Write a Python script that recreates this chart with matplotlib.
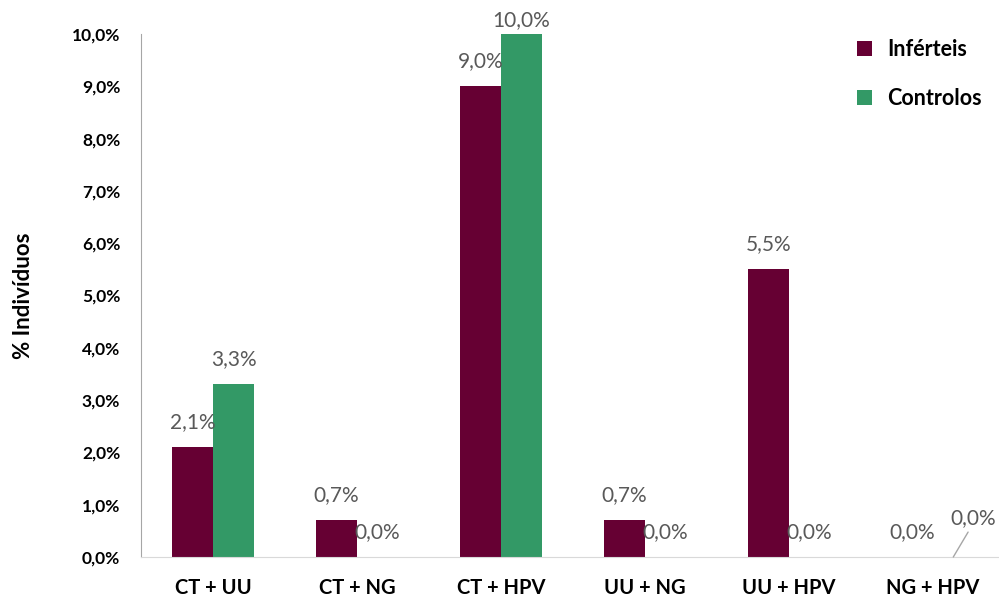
import matplotlib
matplotlib.use("Agg")
import matplotlib.pyplot as plt
import numpy as np
from matplotlib.ticker import FuncFormatter

categories = ["CT + UU", "CT + NG", "CT + HPV", "UU + NG", "UU + HPV", "NG + HPV"]
inferteis = [2.1, 0.7, 9.0, 0.7, 5.5, 0.0]
controlos = [3.3, 0.0, 10.0, 0.0, 0.0, 0.0]
series_names = ["Inférteis", "Controlos"]
colors = ["#660033", "#339966"]

plt.rcParams["font.family"] = ["Lato", "DejaVu Sans"]

fig = plt.figure(figsize=(9.99, 6.01), dpi=100)
ax = fig.add_axes([141 / 999, 1 - 557 / 601, 1 - 141 / 999, 523 / 601])

x = np.arange(len(categories))
w = 0.285
b1 = ax.bar(x - w / 2, inferteis, w, color=colors[0], label=series_names[0])
b2 = ax.bar(x + w / 2, controlos, w, color=colors[1], label=series_names[1])

ax.set_xlim(-0.5, 5.46)
ax.set_ylim(0, 10)
ax.set_yticks(np.arange(0, 10.01, 1))
ax.yaxis.set_major_formatter(FuncFormatter(lambda v, p: f"{v:.1f}%".replace(".", ",")))
ax.set_xticks(x)
ax.set_xticklabels(categories, fontsize=14.5, fontweight="bold")
for lab in ax.get_yticklabels():
    lab.set_fontweight("bold")
    lab.set_fontsize(12.5)
ax.tick_params(axis="both", length=0)
ax.tick_params(axis="x", pad=15)
ax.tick_params(axis="y", pad=15)

for s in ["top", "right"]:
    ax.spines[s].set_visible(False)
ax.spines["left"].set_color("#a6a6a6")
ax.spines["bottom"].set_color("#d9d9d9")

ax.set_ylabel("% Indivíduos", fontsize=16, fontweight="bold")
ax.yaxis.set_label_coords(-0.125, 0.5)


def fmt(v):
    return f"{v:.1f}%".replace(".", ",")


label_color = "#595959"
for bars, vals, is_ctrl in [(b1, inferteis, False), (b2, controlos, True)]:
    for i, (rect, v) in enumerate(zip(bars, vals)):
        cx = rect.get_x() + rect.get_width() / 2
        if is_ctrl and i == len(categories) - 1:
            ax.annotate(fmt(v), xy=(cx, v), xytext=(14, 28), textcoords="offset points",
                        ha="center", va="center", fontsize=15, color=label_color,
                        arrowprops=dict(arrowstyle="-", color="#a6a6a6", lw=1,
                                        shrinkA=1, shrinkB=0, relpos=(0.45, 0)))
        else:
            # labels near the top of the plot area are pushed down
            dy = 10 if v > 9.5 else 18
            ax.annotate(fmt(v), xy=(cx, v), xytext=(0, dy), textcoords="offset points",
                        ha="center", va="center", fontsize=15, color=label_color)

ax.legend(loc="upper left", bbox_to_anchor=(0.812, 1.027), frameon=False,
          prop={"weight": "bold", "size": 15.5}, handlelength=0.7, handleheight=0.7,
          labelspacing=1.3, handletextpad=0.7)

fig.savefig("out.png", dpi=100)
